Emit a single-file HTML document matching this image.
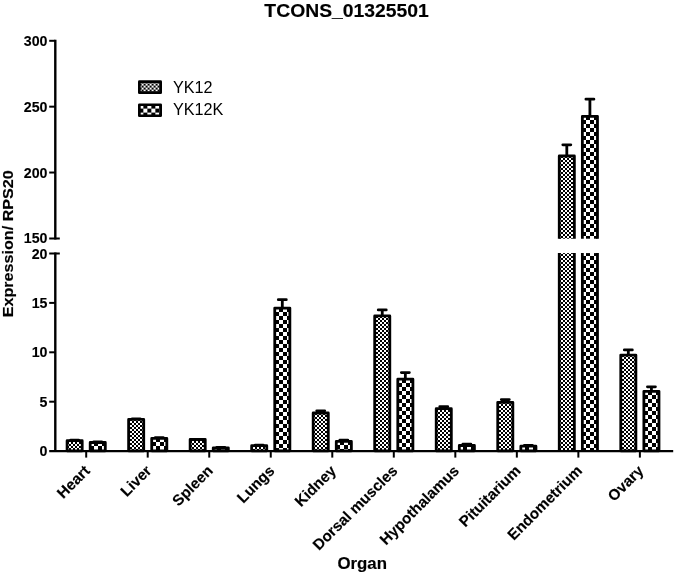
<!DOCTYPE html>
<html><head><meta charset="utf-8"><title>TCONS_01325501</title>
<style>
html,body{margin:0;padding:0;background:#fff;}
body{width:675px;height:575px;overflow:hidden;}
svg{display:block;}
text{font-family:"Liberation Sans",Arial,Helvetica,sans-serif;fill:#000;}
.b{font-weight:bold;stroke:#000;stroke-width:0.15px;}
.n{font-weight:bold;stroke:#000;stroke-width:0.12px;}
</style></head><body>
<svg width="675" height="575" viewBox="0 0 675 575">
<defs>
<pattern id="fine" patternUnits="userSpaceOnUse" x="0" y="0" width="4" height="4"><rect width="4" height="4" fill="#fff"/><rect x="2" y="0" width="2" height="2" fill="#000"/><rect x="0" y="2" width="2" height="2" fill="#000"/></pattern>
<pattern id="coarse" patternUnits="userSpaceOnUse" x="0" y="0" width="8" height="8"><rect width="8" height="8" fill="#fff"/><rect x="4" y="0" width="4" height="4" fill="#000"/><rect x="0" y="4" width="4" height="4" fill="#000"/></pattern>
</defs>
<rect width="675" height="575" fill="#fff"/>
<text class="b" transform="translate(346.6,16.6) scale(1.04,1)" font-size="18.6" text-anchor="middle">TCONS_01325501</text>
<path d="M74.65 440.70V440.20M70.65 440.20H78.65" stroke="#000" stroke-width="2.8" stroke-linecap="round" fill="none"/>
<g transform="translate(69,442)"><rect x="-1.90" y="-1.30" width="15.10" height="10.10" fill="url(#fine)" stroke="#000" stroke-width="2.8" stroke-linejoin="round"/></g>
<path d="M97.75 442.50V441.90M93.75 441.90H101.75" stroke="#000" stroke-width="2.8" stroke-linecap="round" fill="none"/>
<g transform="translate(90,442)"><rect x="0.20" y="0.50" width="15.10" height="8.30" fill="url(#coarse)" stroke="#000" stroke-width="2.8" stroke-linejoin="round"/></g>
<path d="M136.17 419.40V418.80M132.17 418.80H140.17" stroke="#000" stroke-width="2.8" stroke-linecap="round" fill="none"/>
<g transform="translate(130,421)"><rect x="-1.38" y="-1.60" width="15.10" height="31.40" fill="url(#fine)" stroke="#000" stroke-width="2.8" stroke-linejoin="round"/></g>
<path d="M159.27 438.40V437.70M155.27 437.70H163.27" stroke="#000" stroke-width="2.8" stroke-linecap="round" fill="none"/>
<g transform="translate(152,438)"><rect x="-0.28" y="0.40" width="15.10" height="12.40" fill="url(#coarse)" stroke="#000" stroke-width="2.8" stroke-linejoin="round"/></g>
<path d="M197.69 439.50V439.30M193.69 439.30H201.69" stroke="#000" stroke-width="2.8" stroke-linecap="round" fill="none"/>
<g transform="translate(192,441)"><rect x="-1.86" y="-1.50" width="15.10" height="11.30" fill="url(#fine)" stroke="#000" stroke-width="2.8" stroke-linejoin="round"/></g>
<path d="M220.79 447.80V447.40M216.79 447.40H224.79" stroke="#000" stroke-width="2.8" stroke-linecap="round" fill="none"/>
<g transform="translate(213,448)"><rect x="0.24" y="-0.20" width="15.10" height="3.00" fill="url(#coarse)" stroke="#000" stroke-width="2.8" stroke-linejoin="round"/></g>
<path d="M259.21 445.70V445.20M255.21 445.20H263.21" stroke="#000" stroke-width="2.8" stroke-linecap="round" fill="none"/>
<g transform="translate(253,447)"><rect x="-1.34" y="-1.30" width="15.10" height="5.10" fill="url(#fine)" stroke="#000" stroke-width="2.8" stroke-linejoin="round"/></g>
<path d="M282.31 308.10V299.70M278.31 299.70H286.31" stroke="#000" stroke-width="2.8" stroke-linecap="round" fill="none"/>
<g transform="translate(275,308)"><rect x="-0.24" y="0.10" width="15.10" height="142.70" fill="url(#coarse)" stroke="#000" stroke-width="2.8" stroke-linejoin="round"/></g>
<path d="M320.73 413.00V410.80M316.73 410.80H324.73" stroke="#000" stroke-width="2.8" stroke-linecap="round" fill="none"/>
<g transform="translate(315,415)"><rect x="-1.82" y="-2.00" width="15.10" height="37.80" fill="url(#fine)" stroke="#000" stroke-width="2.8" stroke-linejoin="round"/></g>
<path d="M343.83 441.40V440.20M339.83 440.20H347.83" stroke="#000" stroke-width="2.8" stroke-linecap="round" fill="none"/>
<g transform="translate(336,441)"><rect x="0.28" y="0.40" width="15.10" height="9.40" fill="url(#coarse)" stroke="#000" stroke-width="2.8" stroke-linejoin="round"/></g>
<path d="M382.25 315.90V309.90M378.25 309.90H386.25" stroke="#000" stroke-width="2.8" stroke-linecap="round" fill="none"/>
<g transform="translate(376,318)"><rect x="-1.30" y="-2.10" width="15.10" height="134.90" fill="url(#fine)" stroke="#000" stroke-width="2.8" stroke-linejoin="round"/></g>
<path d="M405.35 379.20V372.60M401.35 372.60H409.35" stroke="#000" stroke-width="2.8" stroke-linecap="round" fill="none"/>
<g transform="translate(398,379)"><rect x="-0.20" y="0.20" width="15.10" height="71.60" fill="url(#coarse)" stroke="#000" stroke-width="2.8" stroke-linejoin="round"/></g>
<path d="M443.77 408.70V406.70M439.77 406.70H447.77" stroke="#000" stroke-width="2.8" stroke-linecap="round" fill="none"/>
<g transform="translate(438,410)"><rect x="-1.78" y="-1.30" width="15.10" height="42.10" fill="url(#fine)" stroke="#000" stroke-width="2.8" stroke-linejoin="round"/></g>
<path d="M466.87 445.50V444.20M462.87 444.20H470.87" stroke="#000" stroke-width="2.8" stroke-linecap="round" fill="none"/>
<g transform="translate(459,446)"><rect x="0.32" y="-0.50" width="15.10" height="5.30" fill="url(#coarse)" stroke="#000" stroke-width="2.8" stroke-linejoin="round"/></g>
<path d="M505.29 402.30V399.60M501.29 399.60H509.29" stroke="#000" stroke-width="2.8" stroke-linecap="round" fill="none"/>
<g transform="translate(499,404)"><rect x="-1.26" y="-1.70" width="15.10" height="48.50" fill="url(#fine)" stroke="#000" stroke-width="2.8" stroke-linejoin="round"/></g>
<path d="M528.39 446.20V445.40M524.39 445.40H532.39" stroke="#000" stroke-width="2.8" stroke-linecap="round" fill="none"/>
<g transform="translate(521,446)"><rect x="-0.16" y="0.20" width="15.10" height="4.60" fill="url(#coarse)" stroke="#000" stroke-width="2.8" stroke-linejoin="round"/></g>
<path d="M566.81 156.00V144.80M562.81 144.80H570.81" stroke="#000" stroke-width="2.8" stroke-linecap="round" fill="none"/>
<g transform="translate(561,158)"><rect x="-1.74" y="-2.00" width="15.10" height="82.70" fill="url(#fine)"/><path d="M-1.74 80.70V-2.00H13.36V80.70" fill="none" stroke="#000" stroke-width="2.8" stroke-linejoin="round"/></g>
<g transform="translate(561,252)"><rect x="-1.74" y="1.10" width="15.10" height="197.70" fill="url(#fine)"/><path d="M-1.74 1.10V198.80M13.36 1.10V198.80" fill="none" stroke="#000" stroke-width="2.8"/></g>
<path d="M589.91 116.30V99.20M585.91 99.20H593.91" stroke="#000" stroke-width="2.8" stroke-linecap="round" fill="none"/>
<g transform="translate(582,116)"><rect x="0.36" y="0.30" width="15.10" height="122.40" fill="url(#coarse)"/><path d="M0.36 122.70V0.30H15.46V122.70" fill="none" stroke="#000" stroke-width="2.8" stroke-linejoin="round"/></g>
<g transform="translate(582,252)"><rect x="0.36" y="1.10" width="15.10" height="197.70" fill="url(#coarse)"/><path d="M0.36 1.10V198.80M15.46 1.10V198.80" fill="none" stroke="#000" stroke-width="2.8"/></g>
<path d="M628.33 355.10V349.90M624.33 349.90H632.33" stroke="#000" stroke-width="2.8" stroke-linecap="round" fill="none"/>
<g transform="translate(622,357)"><rect x="-1.22" y="-1.90" width="15.10" height="95.70" fill="url(#fine)" stroke="#000" stroke-width="2.8" stroke-linejoin="round"/></g>
<path d="M651.43 391.30V386.80M647.43 386.80H655.43" stroke="#000" stroke-width="2.8" stroke-linecap="round" fill="none"/>
<g transform="translate(644,391)"><rect x="-0.12" y="0.30" width="15.10" height="59.50" fill="url(#coarse)" stroke="#000" stroke-width="2.8" stroke-linejoin="round"/></g>
<path d="M55.3 39.70V239.50M55.3 252.40V451.10" stroke="#000" stroke-width="2.4" fill="none"/>
<path d="M49.2 451.10H673.2" stroke="#000" stroke-width="2.2" fill="none"/>
<path d="M49.2 40.80H55.3" stroke="#000" stroke-width="2" fill="none"/>
<path d="M49.2 106.67H55.3" stroke="#000" stroke-width="2" fill="none"/>
<path d="M49.2 172.53H55.3" stroke="#000" stroke-width="2" fill="none"/>
<path d="M49.2 238.40H59.8M49.2 253.50H59.8" stroke="#000" stroke-width="2" fill="none"/>
<path d="M49.2 302.90H55.3" stroke="#000" stroke-width="2" fill="none"/>
<path d="M49.2 352.30H55.3" stroke="#000" stroke-width="2" fill="none"/>
<path d="M49.2 401.70H55.3" stroke="#000" stroke-width="2" fill="none"/>
<text class="n" x="47.5" y="45.80" font-size="14.2" text-anchor="end">300</text>
<text class="n" x="47.5" y="111.67" font-size="14.2" text-anchor="end">250</text>
<text class="n" x="47.5" y="177.53" font-size="14.2" text-anchor="end">200</text>
<text class="n" x="47.5" y="243.40" font-size="14.2" text-anchor="end">150</text>
<text class="n" x="47.5" y="258.50" font-size="14.2" text-anchor="end">20</text>
<text class="n" x="47.5" y="307.90" font-size="14.2" text-anchor="end">15</text>
<text class="n" x="47.5" y="357.30" font-size="14.2" text-anchor="end">10</text>
<text class="n" x="47.5" y="406.70" font-size="14.2" text-anchor="end">5</text>
<text class="n" x="47.5" y="456.10" font-size="14.2" text-anchor="end">0</text>
<path d="M86.20 451.10V457.6" stroke="#000" stroke-width="2" fill="none"/>
<text class="b" transform="translate(90.80,471.7) rotate(-45) scale(1.0,1)" font-size="15.2" text-anchor="end">Heart</text>
<path d="M147.72 451.10V457.6" stroke="#000" stroke-width="2" fill="none"/>
<text class="b" transform="translate(152.32,471.7) rotate(-45) scale(1.0,1)" font-size="15.2" text-anchor="end">Liver</text>
<path d="M209.24 451.10V457.6" stroke="#000" stroke-width="2" fill="none"/>
<text class="b" transform="translate(213.84,471.7) rotate(-45) scale(1.0,1)" font-size="15.2" text-anchor="end">Spleen</text>
<path d="M270.76 451.10V457.6" stroke="#000" stroke-width="2" fill="none"/>
<text class="b" transform="translate(275.36,471.7) rotate(-45) scale(1.0,1)" font-size="15.2" text-anchor="end">Lungs</text>
<path d="M332.28 451.10V457.6" stroke="#000" stroke-width="2" fill="none"/>
<text class="b" transform="translate(336.88,471.7) rotate(-45) scale(1.0,1)" font-size="15.2" text-anchor="end">Kidney</text>
<path d="M393.80 451.10V457.6" stroke="#000" stroke-width="2" fill="none"/>
<text class="b" transform="translate(398.40,471.7) rotate(-45) scale(1.0,1)" font-size="15.2" text-anchor="end">Dorsal muscles</text>
<path d="M455.32 451.10V457.6" stroke="#000" stroke-width="2" fill="none"/>
<text class="b" transform="translate(459.92,471.7) rotate(-45) scale(1.0,1)" font-size="15.2" text-anchor="end">Hypothalamus</text>
<path d="M516.84 451.10V457.6" stroke="#000" stroke-width="2" fill="none"/>
<text class="b" transform="translate(521.44,471.7) rotate(-45) scale(1.0,1)" font-size="15.2" text-anchor="end">Pituitarium</text>
<path d="M578.36 451.10V457.6" stroke="#000" stroke-width="2" fill="none"/>
<text class="b" transform="translate(582.96,471.7) rotate(-45) scale(1.0,1)" font-size="15.2" text-anchor="end">Endometrium</text>
<path d="M639.88 451.10V457.6" stroke="#000" stroke-width="2" fill="none"/>
<text class="b" transform="translate(644.48,471.7) rotate(-45) scale(1.0,1)" font-size="15.2" text-anchor="end">Ovary</text>
<text class="b" transform="translate(13.3,243.75) rotate(-90) scale(1.062,1)" font-size="15.2" text-anchor="middle">Expression/ RPS20</text>
<text class="b" transform="translate(362.2,569) scale(1.04,1)" font-size="16.2" text-anchor="middle">Organ</text>
<g transform="translate(141.6,83.6)"><rect x="-2.25" y="-1.95" width="21.3" height="11" fill="url(#fine)" stroke="#000" stroke-width="2.7" stroke-linejoin="round"/></g>
<g transform="translate(139.35,104.6)"><rect x="0" y="0.15" width="21.3" height="11" fill="url(#coarse)" stroke="#000" stroke-width="2.7" stroke-linejoin="round"/></g>
<text x="173.0" y="92.8" font-size="16.2">YK12</text>
<text x="173.0" y="114.8" font-size="16.2">YK12K</text>
</svg>
</body></html>
